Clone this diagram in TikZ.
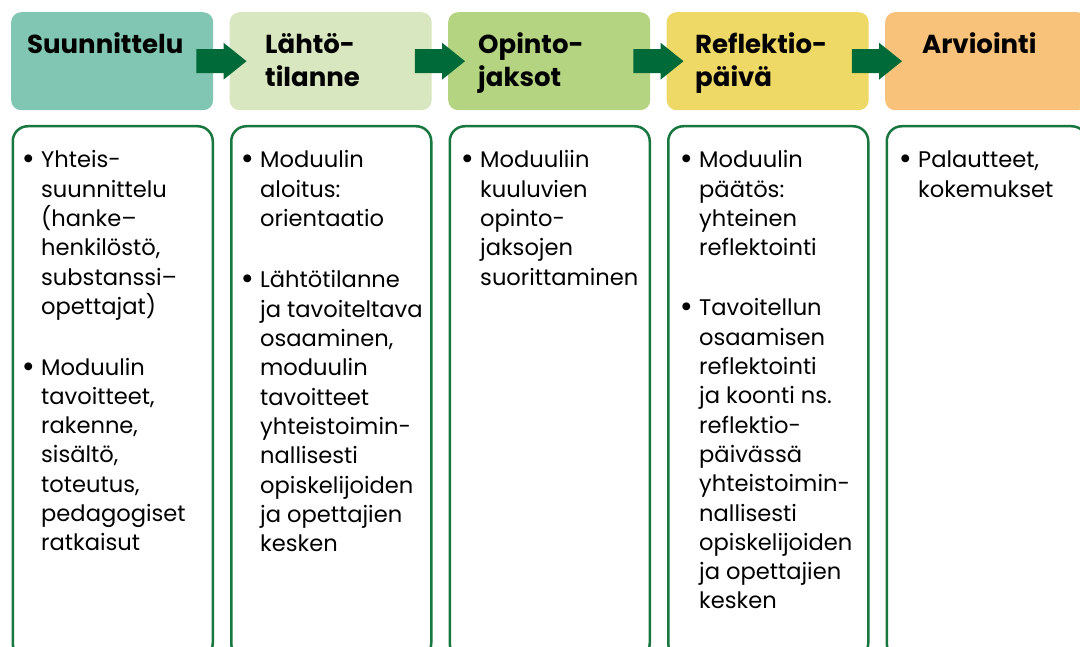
\documentclass[tikz,border=0pt]{standalone}
\usepackage{fontspec}
\setmainfont{Poppins}
\usetikzlibrary{calc}
\definecolor{cSuun}{HTML}{80C6B3}
\definecolor{cLaht}{HTML}{D9E7C0}
\definecolor{cOpin}{HTML}{B4D481}
\definecolor{cRefl}{HTML}{EFD966}
\definecolor{cArvi}{HTML}{F8C27B}
\definecolor{arrowc}{HTML}{006B38}
\definecolor{borderc}{HTML}{18773F}
\newcommand{\para}[1]{\parbox[t]{200pt}{\raggedright #1}}
\begin{document}
\begin{tikzpicture}[x=1pt,y=-1pt,
  hbox/.style={rectangle, rounded corners=10pt, minimum width=202pt, minimum height=98pt, inner sep=0pt, draw=none, anchor=north west},
  bodybox/.style={rectangle, rounded corners=15pt, minimum width=200pt, minimum height=532pt, inner sep=0pt, draw=borderc, line width=2.5pt, fill=white, anchor=north west},
  htext/.style={font=\fontsize{26}{32.5}\selectfont\bfseries, anchor=base west, inner sep=0pt, text=black},
  btext/.style={font=\fontsize{22.6}{29.3}\selectfont, anchor=base west, inner sep=0pt, text=black},
  bul/.style={font=\fontsize{26}{29.3}\selectfont\bfseries, anchor=base, inner sep=0pt, text=black},
  blockarrow/.style={fill=arrowc, draw=none}]
\useasboundingbox (0,0) rectangle (1080,647);
\fill[white] (0,0) rectangle (1080,647);
\clip (0,0) rectangle (1080,647);

% header boxes
\node[hbox, fill=cSuun] (h1) at (11,12) {};
\node[hbox, fill=cLaht] (h2) at (229.5,12) {};
\node[hbox, fill=cOpin] (h3) at (448,12) {};
\node[hbox, fill=cRefl] (h4) at (666.5,12) {};
\node[hbox, fill=cArvi] (h5) at (885,12) {};

% header texts
\node[htext] (t1) at (27,54) {Suunnittelu};
\node[htext] (t2) at (265,54) {\para{Lähtö-\\tilanne}};
\node[htext] (t3) at (478,54) {\para{Opinto-\\jaksot}};
\node[htext] (t4) at (695,54) {\para{Reflektio-\\päivä}};
\node[htext] (t5) at (922,54) {Arviointi};

% block arrows between headers
\foreach \a/\b in {h1/h2,h2/h3,h3/h4,h4/h5}{
  \fill[blockarrow] ($(\a.east)+(-17,-12)$) -- ($(\b.west)+(-6,-12)$) -- ($(\b.west)+(-6,-18.5)$)
    -- ($(\b.west)+(17,0)$) -- ($(\b.west)+(-6,18.5)$) -- ($(\b.west)+(-6,12)$)
    -- ($(\a.east)+(-17,12)$) -- cycle;
}

% body boxes
\node[bodybox] (b1) at (11.5,125) {};
\node[bodybox] (b2) at (230,125) {};
\node[bodybox] (b3) at (448.5,125) {};
\node[bodybox] (b4) at (667,125) {};
\node[bodybox] (b5) at (885.5,125) {};

% column 1
\node[bul] (u11) at (28.5,168) {•};
\node[btext] (p11) at (41,168) {\para{Yhteis-\\suunnittelu\\(hanke–\\henkilöstö,\\substanssi–\\opettajat)}};
\node[bul] (u12) at (28.5,375) {•};
\node[btext] (p12) at (41,375) {\para{Moduulin\\tavoitteet,\\rakenne,\\sisältö,\\toteutus,\\pedagogiset\\ratkaisut}};

% column 2
\node[bul] (u21) at (247.5,168) {•};
\node[btext] (p21) at (260,168) {\para{Moduulin\\aloitus:\\orientaatio}};
\node[bul] (u22) at (247.5,288) {•};
\node[btext] (p22) at (260,288) {\para{Lähtötilanne\\ja tavoiteltava\\osaaminen,\\moduulin\\tavoitteet\\yhteistoimin-\\nallisesti\\opiskelijoiden\\ja opettajien\\kesken}};

% column 3
\node[bul] (u31) at (467.5,168) {•};
\node[btext] (p31) at (480,168) {\para{Moduuliin\\kuuluvien\\opinto-\\jaksojen\\suorittaminen}};

% column 4
\node[bul] (u41) at (686.5,168) {•};
\node[btext] (p41) at (699,168) {\para{Moduulin\\päätös:\\yhteinen\\reflektointi}};
\node[bul] (u42) at (686.5,316) {•};
\node[btext] (p42) at (699,316) {\para{Tavoitellun\\osaamisen\\reflektointi\\ja koonti ns.\\reflektio-\\päivässä\\yhteistoimin-\\nallisesti\\opiskelijoiden\\ja opettajien\\kesken}};

% column 5
\node[bul] (u51) at (905.5,168) {•};
\node[btext] (p51) at (918,168) {\para{Palautteet,\\kokemukset}};
\end{tikzpicture}
\end{document}
